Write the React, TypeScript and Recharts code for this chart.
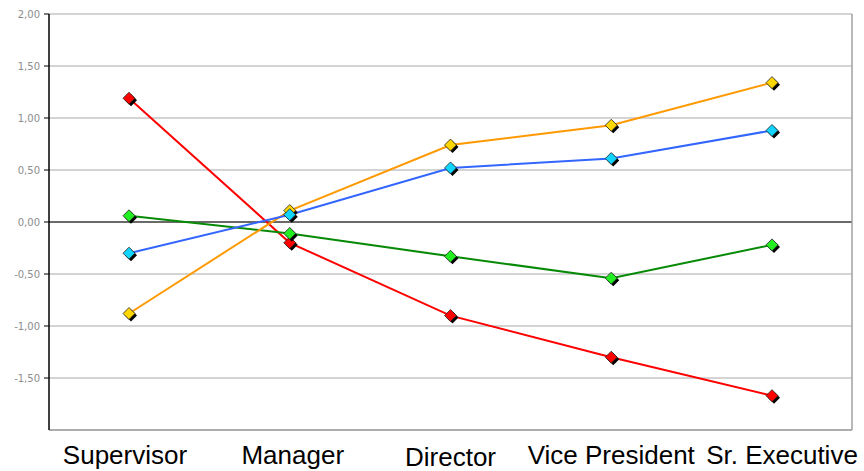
import { CartesianGrid, Line, LineChart, ReferenceLine, XAxis, YAxis } from "recharts";

const categories = ["Supervisor", "Manager", "Director", "Vice President", "Sr. Executive"];
const redValues = [1.19, -0.2, -0.9, -1.3, -1.67];
const greenValues = [0.06, -0.11, -0.33, -0.54, -0.22];
const orangeValues = [-0.88, 0.11, 0.74, 0.93, 1.34];
const blueValues = [-0.3, 0.07, 0.52, 0.61, 0.88];
const yTicks = [-1.5, -1, -0.5, 0, 0.5, 1, 1.5, 2];

const data = categories.map((name, i) => ({
  name,
  red: redValues[i],
  green: greenValues[i],
  orange: orangeValues[i],
  blue: blueValues[i],
}));

function diamond(fill: string) {
  return (props: any) => {
    const { cx, cy, index } = props;
    if (cx == null || cy == null) return <g key={index} />;
    const r = 6;
    const pts = (dx: number, dy: number) =>
      `${cx + dx},${cy + dy - r} ${cx + dx + r},${cy + dy} ${cx + dx},${cy + dy + r} ${cx + dx - r},${cy + dy}`;
    return (
      <g key={index}>
        <polygon points={pts(2, 2)} fill="#000" />
        <polygon points={pts(0, 0)} fill={fill} stroke="#222" strokeWidth={0.8} />
      </g>
    );
  };
}

// excel nudges a few labels so they don't collide
function CategoryTick(props: any) {
  const { x, y, payload, index } = props;
  const nudge = [-4, 3, 0, 0, 10][index] ?? 0;
  return (
    <text
      x={x + nudge}
      y={y}
      dy={index === 2 ? 36 : 34}
      textAnchor="middle"
      fontSize={26}
      fontFamily="'Liberation Sans', Arial, sans-serif"
      fill="#000"
    >
      {payload.value}
    </text>
  );
}

export default function App() {
  return (
    <div style={{ position: "absolute", left: 0, top: 0, background: "#fff" }}>
      <LineChart width={864} height={471} data={data} margin={{ top: 14, right: 0, bottom: 0, left: 0 }}>
        <CartesianGrid vertical={false} stroke="#a8a8a8" />
        <XAxis
          dataKey="name"
          height={41}
          padding={{ left: 80, right: 80 }}
          tickLine={false}
          tickSize={0}
          tickMargin={0}
          axisLine={{ stroke: "#a0a0a0", strokeWidth: 1.5 }}
          tick={<CategoryTick />}
          interval={0}
        />
        <YAxis
          width={49}
          domain={[-2, 2]}
          ticks={yTicks}
          interval={0}
          tickFormatter={(v: number) => v.toFixed(2).replace(".", ",")}
          tick={{ fill: "#8c8c8c", fontSize: 10, fontFamily: "'DejaVu Sans', Verdana, sans-serif" }}
          tickSize={5}
          tickMargin={4}
          tickLine={{ stroke: "#000" }}
          axisLine={{ stroke: "#000", strokeWidth: 1.5 }}
        />
        <YAxis
          yAxisId="right"
          orientation="right"
          width={12}
          domain={[-2, 2]}
          tick={false}
          tickLine={false}
          axisLine={{ stroke: "#a0a0a0", strokeWidth: 1.5 }}
        />
        <ReferenceLine y={0} stroke="#000" strokeWidth={1.2} />
        <Line
          dataKey="red"
          stroke="#ff0000"
          strokeWidth={2}
          dot={diamond("#ff0000")}
          activeDot={false}
          isAnimationActive={false}
        />
        <Line
          dataKey="green"
          stroke="#068a06"
          strokeWidth={2}
          dot={diamond("#22ee22")}
          activeDot={false}
          isAnimationActive={false}
        />
        <Line
          dataKey="orange"
          stroke="#ff9900"
          strokeWidth={2}
          dot={diamond("#ffd700")}
          activeDot={false}
          isAnimationActive={false}
        />
        <Line
          dataKey="blue"
          stroke="#3366ff"
          strokeWidth={2}
          dot={diamond("#11d4ff")}
          activeDot={false}
          isAnimationActive={false}
        />
      </LineChart>
    </div>
  );
}
